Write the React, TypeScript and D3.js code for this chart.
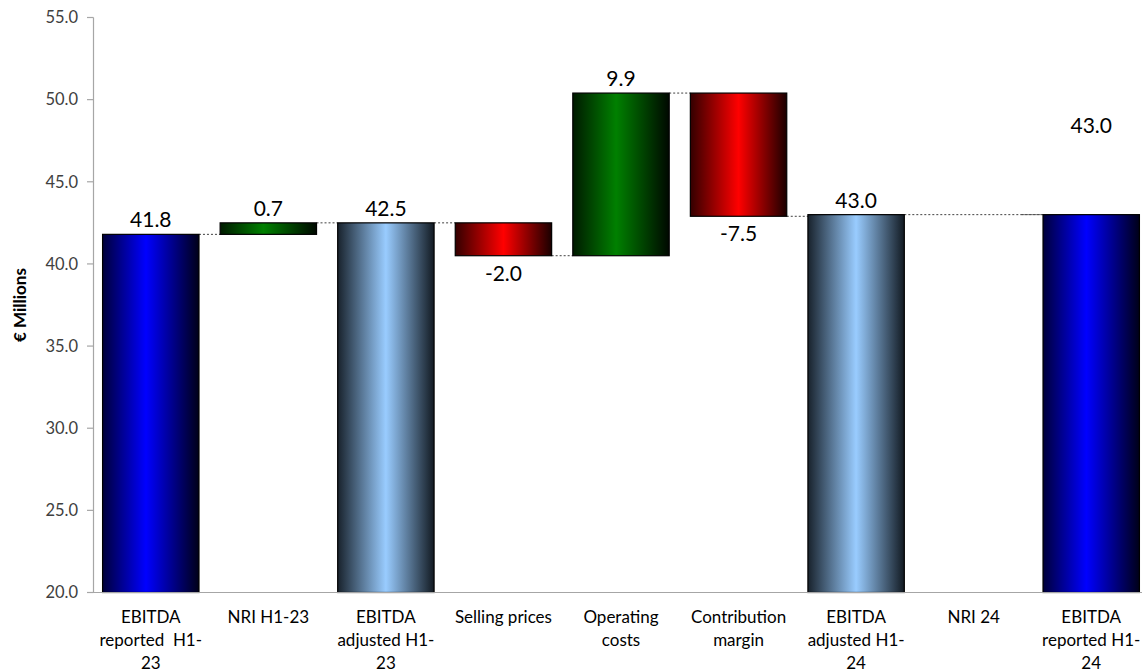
import React from "react";
import * as d3 from "d3";

const categories: string[][] = [
  ["EBITDA", "reported  H1-", "23"],
  ["NRI H1-23"],
  ["EBITDA", "adjusted H1-", "23"],
  ["Selling prices"],
  ["Operating", "costs"],
  ["Contribution", "margin"],
  ["EBITDA", "adjusted H1-", "24"],
  ["NRI 24"],
  ["EBITDA", "reported H1-", "24"],
];
// kind: total-dark, total-light, delta
const kinds = ["totalDark", "delta", "totalLight", "delta", "delta", "delta", "totalLight", "delta", "totalDark"];
const values = [41.8, 0.7, 42.5, -2.0, 9.9, -7.5, 43.0, 0.0, 43.0];
const labels = ["41.8", "0.7", "42.5", "-2.0", "9.9", "-7.5", "43.0", "", "43.0"];
const yTicks = [20, 25, 30, 35, 40, 45, 50, 55];

const W = 1142;
const H = 672;

export default function App() {
  const x = d3.scaleBand<number>().domain(d3.range(categories.length)).range([92, 1150]).paddingInner(0.18).paddingOuter(0.09);
  const y = d3.scaleLinear().domain([20, 55]).range([592.5, 17.5]);

  let running = 0;
  const bars = values.map((v, i) => {
    const k = kinds[i];
    if (k !== "delta") {
      running = v;
      return { i, k, lo: 20, hi: v, end: v, v };
    }
    const start = running;
    running = start + v;
    return { i, k, lo: Math.min(start, running), hi: Math.max(start, running), end: running, v };
  });

  const fillFor = (b: any) => {
    if (b.k === "totalDark") return "url(#gBlue)";
    if (b.k === "totalLight") return "url(#gLight)";
    return b.v >= 0 ? "url(#gGreen)" : "url(#gRed)";
  };

  const bw = x.bandwidth();
  const font = "Lato, 'Open Sans', sans-serif";

  return (
    <svg width={W} height={H} style={{ position: "absolute", left: 0, top: 0, background: "#fff" }}>
      <defs>
        <linearGradient id="gBlue" x1="0" x2="1" y1="0" y2="0">
          <stop offset="0" stopColor="#00003a" />
          <stop offset="0.45" stopColor="#0000ff" />
          <stop offset="1" stopColor="#000018" />
        </linearGradient>
        <linearGradient id="gLight" x1="0" x2="1" y1="0" y2="0">
          <stop offset="0" stopColor="#18222c" />
          <stop offset="0.5" stopColor="#99ccff" />
          <stop offset="1" stopColor="#121a22" />
        </linearGradient>
        <linearGradient id="gGreen" x1="0" x2="1" y1="0" y2="0">
          <stop offset="0" stopColor="#001a00" />
          <stop offset="0.45" stopColor="#008000" />
          <stop offset="1" stopColor="#000800" />
        </linearGradient>
        <linearGradient id="gRed" x1="0" x2="1" y1="0" y2="0">
          <stop offset="0" stopColor="#330000" />
          <stop offset="0.5" stopColor="#ff0000" />
          <stop offset="1" stopColor="#1a0000" />
        </linearGradient>
      </defs>

      {/* y axis */}
      <line x1={93.5} x2={93.5} y1={y(55)} y2={y(20)} stroke="#a6a6a6" strokeWidth={1.2} />
      {yTicks.map((t) => (
        <g key={t}>
          <line x1={87} x2={93.5} y1={y(t)} y2={y(t)} stroke="#a6a6a6" strokeWidth={1.2} />
          <text x={78} y={y(t)} dy="0.35em" textAnchor="end" fontFamily={font} fontSize={16.5} fill="#404040">
            {t.toFixed(1)}
          </text>
        </g>
      ))}
      <text transform={`translate(26,${y(37.5)}) rotate(-90)`} textAnchor="middle" fontFamily={font} fontWeight="bold" fontSize={17} fill="#000">
        € Millions
      </text>

      {/* connectors */}
      {bars.slice(0, -1).map((b, idx) => {
        let j = idx + 1;
        while (j < bars.length - 1 && bars[j].k === "delta" && bars[j].v === 0) j++;
        if (j !== idx + 1 && bars[idx + 1].v !== 0) return null;
        const level = b.end;
        return (
          <line
            key={"c" + idx}
            x1={(x(b.i) as number) + bw}
            x2={x(bars[j].i) as number}
            y1={y(level)}
            y2={y(level)}
            stroke="#404040"
            strokeWidth={1}
            strokeDasharray="2,2"
          />
        );
      })}

      {/* bars */}
      {bars.map((b) =>
        b.hi - b.lo > 0 ? (
          <rect
            key={"b" + b.i}
            x={x(b.i)}
            y={y(b.hi)}
            width={bw}
            height={y(b.lo) - y(b.hi)}
            fill={fillFor(b)}
            stroke="#000"
            strokeWidth={1.2}
          />
        ) : null
      )}

      {/* x axis */}
      <line x1={87} x2={W} y1={592.5} y2={592.5} stroke="#a6a6a6" strokeWidth={1.2} />

      {/* value labels */}
      {bars.map((b, i) => {
        if (!labels[i]) return null;
        const cx = (x(b.i) as number) + bw / 2;
        const below = b.k === "delta" && b.v < 0;
        const extra = i === bars.length - 1 ? 75 : 0;
        const ty = below ? y(b.lo) + 25 : y(b.hi) - 7 - extra;
        return (
          <text key={"l" + i} x={cx} y={ty} textAnchor="middle" fontFamily={font} fontSize={21} fill="#000">
            {labels[i]}
          </text>
        );
      })}

      {/* category labels */}
      {categories.map((lines, i) => (
        <text key={"cat" + i} textAnchor="middle" fontFamily={font} fontSize={17} fill="#000">
          {lines.map((ln, k) => (
            <tspan key={k} x={(x(i) as number) + bw / 2} y={623 + k * 23} style={{ whiteSpace: "pre" }}>
              {ln}
            </tspan>
          ))}
        </text>
      ))}
    </svg>
  );
}
